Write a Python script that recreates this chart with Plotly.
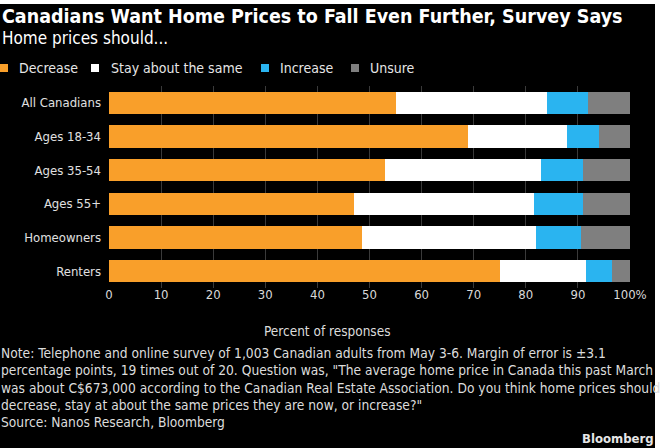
import plotly.graph_objects as go

groups = ["All Canadians", "Ages 18-34", "Ages 35-54", "Ages 55+", "Homeowners", "Renters"]
decrease = [55, 69, 53, 47, 48.5, 75]
stay_same = [29, 19, 30, 34.5, 33.5, 16.5]
increase = [8, 6, 8, 9.5, 8.5, 5]
unsure = [8, 6, 9, 9, 9.5, 3.5]

series_names = ["Decrease", "Stay about the same", "Increase", "Unsure"]
series_colors = ["#F99F2A", "#FFFFFF", "#2AB4F0", "#7F7F7F"]

x_ticks = [0, 10, 20, 30, 40, 50, 60, 70, 80, 90, 100]
x_labels = ["0", "10", "20", "30", "40", "50", "60", "70", "80", "90", "100%"]

note_lines = [
    "Note: Telephone and online survey of 1,003 Canadian adults from May 3-6. Margin of error is \u00b13.1",
    "percentage points, 19 times out of 20. Question was, \"The average home price in Canada this past March",
    "was about C$673,000 according to the Canadian Real Estate Association. Do you think home prices should",
    "decrease, stay at about the same prices they are now, or increase?\"",
    "Source: Nanos Research, Bloomberg",
]

W, H = 660, 448
L, R, T, B = 109, 30, 86, 160
FONT = "DejaVu Sans Condensed, DejaVu Sans, sans-serif"


def px(x):
    return (x - L) / (W - L - R)


def py(y):
    return (H - B - y) / (H - T - B)


fig = go.Figure()
for name, vals, col in zip(series_names, [decrease, stay_same, increase, unsure], series_colors):
    fig.add_trace(go.Bar(y=groups, x=vals, name=name, orientation="h",
                         marker=dict(color=col, line=dict(width=0)),
                         hoverinfo="skip"))

fig.update_layout(
    width=W, height=H,
    margin=dict(l=L, r=R, t=T, b=B, autoexpand=False),
    paper_bgcolor="black", plot_bgcolor="black",
    barmode="stack", bargap=0.33,
    font=dict(family=FONT, size=13, color="#dcdcdc"),
    title=dict(text="<b>Canadians Want Home Prices to Fall Even Further, Survey Says</b>",
               x=2 / W, xanchor="left", xref="container",
               y=1 - 16 / H, yanchor="middle", yref="container",
               font=dict(family=FONT, size=19.5, color="white")),
    showlegend=False,
)

fig.update_xaxes(range=[0, 100], tickvals=x_ticks, ticktext=x_labels,
                 showgrid=True, gridcolor="#3a3a3a", gridwidth=1,
                 zeroline=False, showline=False, fixedrange=True,
                 ticklabelstandoff=-3,
                 tickfont=dict(size=13, color="#d9d9d9"))
fig.update_yaxes(autorange="reversed", showgrid=False, showline=False,
                 ticklabelstandoff=7,
                 tickfont=dict(size=13, color="#e0e0e0"))

# legend row drawn as small squares + labels, like the original
swatch_x = [0, 91, 261, 351]
text_x = [17, 109, 278, 368]
for name, col, sx, tx in zip(series_names, series_colors, swatch_x, text_x):
    fig.add_shape(type="rect", xref="paper", yref="paper",
                  x0=px(sx), x1=px(sx + 8), y0=py(64), y1=py(72),
                  fillcolor=col, line=dict(width=0))
    fig.add_annotation(text=name, xref="paper", yref="paper",
                       x=px(tx), y=py(68), xanchor="left", yanchor="middle",
                       showarrow=False, font=dict(size=14, color="#e6e6e6"))

fig.add_annotation(text="Home prices should...", xref="paper", yref="paper",
                   x=px(0), y=py(38), xanchor="left", yanchor="middle",
                   showarrow=False, font=dict(size=17, color="white"))
fig.add_annotation(text="Percent of responses", xref="paper", yref="paper",
                   x=px(327), y=py(331), xanchor="center", yanchor="middle",
                   showarrow=False, font=dict(size=13.5, color="#dcdcdc"))
for i, line in enumerate(note_lines):
    fig.add_annotation(text=line, xref="paper", yref="paper",
                       x=px(-1), y=py(353 + 17.3 * i), xanchor="left", yanchor="middle",
                       showarrow=False, font=dict(size=13.7, color="#dcdcdc"))
fig.add_annotation(text="<b>Bloomberg</b>", xref="paper", yref="paper",
                   x=px(656), y=py(438), xanchor="right", yanchor="middle",
                   showarrow=False, font=dict(size=13, color="#e6e6e6"))

# thin white edges of the screenshot
fig.add_shape(type="rect", xref="paper", yref="paper", x0=px(0), x1=px(W),
              y0=py(0), y1=py(4), fillcolor="white", line=dict(width=0))
fig.add_shape(type="rect", xref="paper", yref="paper", x0=px(655), x1=px(W),
              y0=py(0), y1=py(H), fillcolor="white", line=dict(width=0))

# drop the page's default body margin so the figure sits at the window corner
fig.write_html("out.html", config={"displayModeBar": False},
               post_script="document.body.style.margin='0';document.body.style.overflow='hidden';")
